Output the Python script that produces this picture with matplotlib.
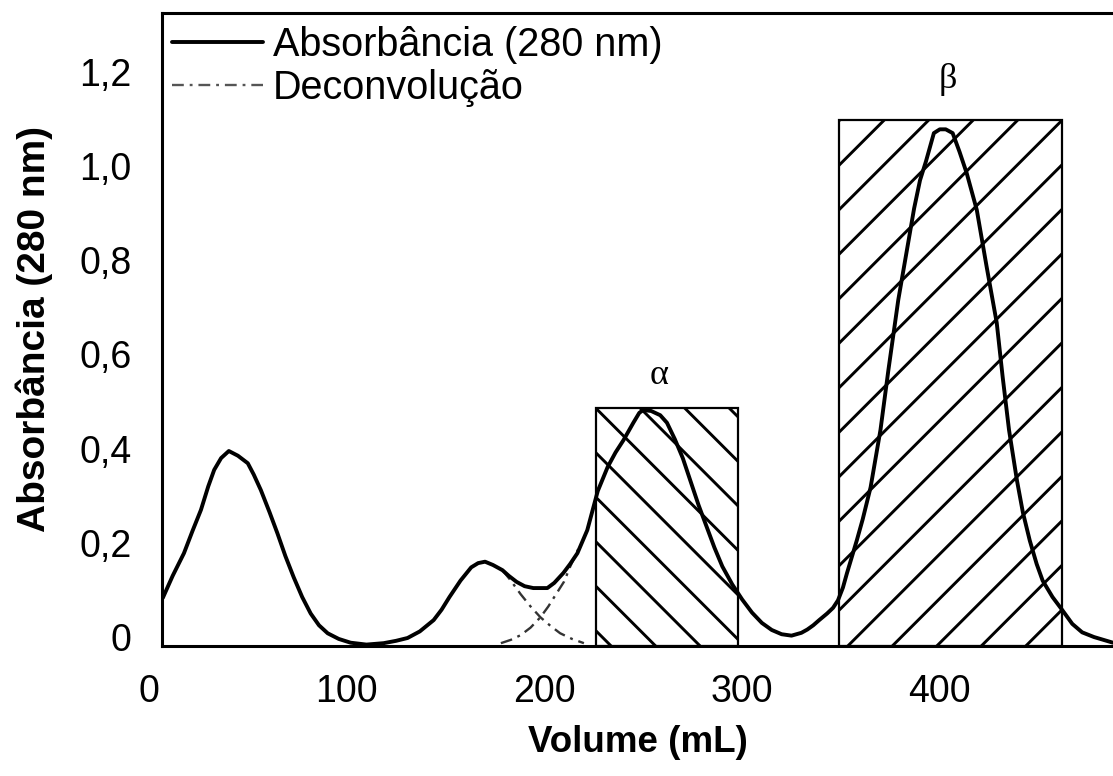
import numpy as np
import matplotlib
matplotlib.use("Agg")
import matplotlib.pyplot as plt
from matplotlib.patches import Rectangle
from matplotlib.transforms import offset_copy

plt.rcParams['font.family'] = ['Liberation Sans', 'DejaVu Sans']

# ---------------- data ----------------
vol = [7, 12, 17.7, 22, 26.3, 30, 33, 36.5, 40.4, 45, 50, 53, 56.6, 61, 65, 69,
       73.2, 77.5, 81.8, 86, 90.4, 96, 102, 110, 118.7, 125, 130.8, 137, 144,
       148, 152, 157.6, 163, 166.5, 170, 174, 178.8, 182, 186, 190, 194.4,
       201.5, 205, 209.6, 213, 216.7, 221.7, 227, 232, 236, 240, 245, 248, 250,
       254, 258.6, 262, 266, 270, 274, 278, 282, 286, 290, 295, 300, 305, 310,
       315, 320, 325, 330, 333, 336, 339, 343, 346, 348.5, 351, 353, 355.5,
       358, 361, 365, 370, 374, 379, 384, 387, 390, 393, 395, 397, 400, 403,
       406.5, 410, 413.6, 418.7, 423.7, 428.8, 431.8, 435, 439, 442, 445.5,
       449, 452, 457, 462, 467, 472, 478, 487.6]
absorb = [0.083, 0.13, 0.178, 0.225, 0.27, 0.32, 0.355, 0.38, 0.395, 0.385,
          0.369, 0.345, 0.312, 0.265, 0.22, 0.172, 0.127, 0.085, 0.05, 0.025,
          0.008, -0.004, -0.012, -0.016, -0.013, -0.008, -0.002, 0.012, 0.036,
          0.058, 0.085, 0.12, 0.148, 0.157, 0.160, 0.153, 0.142, 0.13, 0.117,
          0.108, 0.104, 0.104, 0.115, 0.136, 0.155, 0.178, 0.227, 0.31, 0.361,
          0.392, 0.418, 0.455, 0.476, 0.482, 0.480, 0.471, 0.455, 0.42, 0.38,
          0.33, 0.28, 0.235, 0.19, 0.15, 0.112, 0.08, 0.052, 0.03, 0.015, 0.006,
          0.003, 0.009, 0.016, 0.025, 0.036, 0.05, 0.062, 0.078, 0.105, 0.135,
          0.17, 0.205, 0.25, 0.318, 0.44, 0.567, 0.716, 0.837, 0.91, 0.97, 1.01,
          1.04, 1.07, 1.078, 1.078, 1.07, 1.03, 0.985, 0.907, 0.786, 0.667,
          0.552, 0.44, 0.333, 0.265, 0.205, 0.155, 0.12, 0.085, 0.057, 0.028,
          0.01, 0.0, -0.012]

deconv1_x = [178.8, 183, 188, 193, 198, 203, 208, 214, 220]
deconv1_y = [0.142, 0.12, 0.091, 0.065, 0.042, 0.024, 0.008, -0.004, -0.013]
deconv2_x = [178, 183, 188, 193, 198, 202, 205.6, 210, 213, 218]
deconv2_y = [-0.013, -0.006, 0.004, 0.02, 0.042, 0.065, 0.089, 0.118, 0.149, 0.195]

# collected fractions: x start, x end, box height, label position
frac_names = ['α', 'β']
frac_x0 = [226, 349]
frac_x1 = [298, 462]
frac_h = [0.486, 1.098]
frac_label_x = [258, 404]
frac_label_y = [0.556, 1.183]

xticks = [0, 100, 200, 300, 400]
xticklabels = ['0', '100', '200', '300', '400']
yticks = [0, 0.2, 0.4, 0.6, 0.8, 1.0, 1.2]
yticklabels = ['0', '0,2', '0,4', '0,6', '0,8', '1,0', '1,2']

# ---------------- figure ----------------
W, H = 1113, 776
fig = plt.figure(figsize=(W / 100, H / 100), dpi=100)
ax = fig.add_axes([162 / W, (H - 646) / H, (W - 162) / W, (646 - 13) / H])
YMIN, YMAX = -0.019, 1.325
ax.set_xlim(6.6, 487.6)
ax.set_ylim(YMIN, YMAX)

ax.plot(vol, absorb, color='black', lw=2.8, solid_joinstyle='round',
        solid_capstyle='round', label='Absorbância (280 nm)', zorder=4)
dd = (0, (5, 2.5, 1.2, 2.5))
ax.plot(deconv1_x, deconv1_y, color='#333333', lw=1.7, linestyle=dd,
        label='Deconvolução', zorder=3)
ax.plot(deconv2_x, deconv2_y, color='#333333', lw=1.7, linestyle=dd, zorder=3)

# boxes with hatch lines at 45 degrees on screen
fig.canvas.draw()
spacing_px = 44.5
inv = ax.transData.inverted()
for i, name in enumerate(frac_names):
    x0, x1, h = frac_x0[i], frac_x1[i], frac_h[i]
    rect = Rectangle((x0, YMIN), x1 - x0, h - YMIN, fill=False,
                     edgecolor='black', lw=1.6, zorder=5)
    ax.add_patch(rect)
    (px0, py0) = ax.transData.transform((x0, YMIN))
    (px1, py1) = ax.transData.transform((x1, h))
    for k in range(-40, 40):
        if name == 'α':
            xa, ya = px0 + k * spacing_px, py1
            pts = inv.transform([(xa - 2000, ya + 2000), (xa + 2000, ya - 2000)])
        else:
            xa, ya = px1 + k * spacing_px, py1
            pts = inv.transform([(xa - 2000, ya - 2000), (xa + 2000, ya + 2000)])
        ln, = ax.plot(pts[:, 0], pts[:, 1], color='black', lw=2.1, zorder=2)
        ln.set_clip_path(rect)
    ax.text(frac_label_x[i], frac_label_y[i], name, family='Liberation Serif',
            fontsize=26, ha='center', va='center')

# axes styling
for s in ['left', 'bottom', 'top']:
    ax.spines[s].set_linewidth(2.2)
ax.spines['right'].set_visible(False)
ax.set_xticks(xticks[1:])
ax.set_xticklabels(xticklabels[1:])
ax.set_yticks(yticks)
ax.set_yticklabels(yticklabels)
ax.tick_params(axis='both', length=0, labelsize=27)
ax.tick_params(axis='x', pad=20)
ax.tick_params(axis='y', pad=22)
ax.text(xticks[0], YMIN, xticklabels[0], fontsize=27, ha='center', va='top',
        transform=offset_copy(ax.transData, fig=fig, x=0, y=-20, units='points'),
        clip_on=False)

ax.set_xlabel('Volume (mL)', fontsize=26.5, fontweight='bold', labelpad=11)
ax.set_ylabel('Absorbância (280 nm)', fontsize=28, fontweight='bold', labelpad=19)

leg = ax.legend(loc='upper left', frameon=False, fontsize=28.5, handlelength=2.3,
                handletextpad=0.25, labelspacing=0.12, borderaxespad=0,
                borderpad=0, bbox_to_anchor=(172 / W, 1 - 26 / H),
                bbox_transform=fig.transFigure)
leg.get_lines()[1].set_color('#555555')

fig.savefig('out.png', dpi=100)
